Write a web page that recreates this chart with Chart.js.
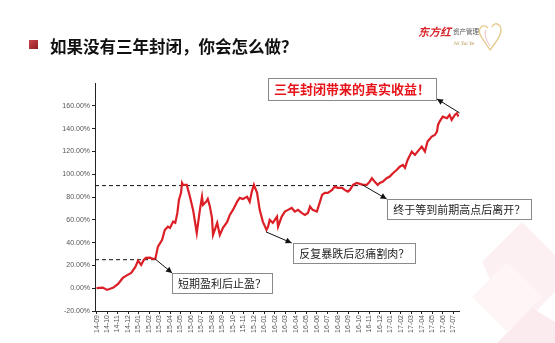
<!DOCTYPE html>
<html>
<head>
<meta charset="utf-8">
<script src="https://cdn.jsdelivr.net/npm/chart.js@4/dist/chart.umd.min.js"></script>
<style>
  html, body { margin:0; padding:0; background:#fff; }
  #wrap { position:relative; width:555px; height:343px; overflow:hidden; background:#fff; }
  #c { position:absolute; left:0; top:0; z-index:2; }
  #title { position:absolute; left:50px; top:34px; font-family:"Noto Sans CJK SC"; font-weight:bold; font-size:16.5px; color:#111; z-index:3; white-space:nowrap; }
  #bullet { position:absolute; left:29px; top:40px; width:9px; height:9px; background:linear-gradient(135deg,#c9474c,#8e1d22); z-index:3; }
  #logo { position:absolute; left:416px; top:20px; width:100px; height:36px; z-index:3; }
  #wm { position:absolute; left:462px; top:222px; z-index:1; }
</style>
</head>
<body>
<div id="wrap">
  <svg id="wm" width="93" height="121" viewBox="0 0 93 121">
    <path d="M20 40 L60 0 L93 33 L93 70 L53 110 Z" fill="#fcf0f2"/>
    <path d="M10 75 L45 40 L80 75 L45 110 Z" fill="#fdf5f6"/>
    <path d="M35 121 L70 86 L93 100 L93 121 Z" fill="#fbeaee"/>
  </svg>
  <div id="bullet"></div>
  <div id="title">如果没有三年封闭，你会怎么做？</div>
  <svg id="logo" width="100" height="36" viewBox="0 0 100 36">
    <text x="2" y="16" font-family="Noto Sans CJK SC" font-weight="bold" font-style="italic" font-size="11" fill="#d8262c">东方红</text>
    <text x="37" y="14" font-family="Noto Sans CJK SC" font-size="6.5" fill="#555">资产管理</text>
    <text x="38" y="25" font-family="DejaVu Serif" font-style="italic" font-size="4.5" fill="#b08a3a">Ni  Tai  Ye</text>
    <path d="M72 8 C66 2 60 10 66 18 L74 30 M74 30 C80 22 88 12 84 6 C81 2 77 4 76 7" fill="none" stroke="#e4c98a" stroke-width="1.3"/>
    <path d="M70 10 C68 14 70 20 74 26" fill="none" stroke="#f0b8c0" stroke-width="1"/>
  </svg>
  <canvas id="c" width="555" height="343"></canvas>
</div>
<script>
// ---- data ----
const monthLabels = ['14-09','14-10','14-11','14-12',
  '15-01','15-02','15-03','15-04','15-05','15-06','15-07','15-08','15-09','15-10','15-11','15-12',
  '16-01','16-02','16-03','16-04','16-05','16-06','16-07','16-08','16-09','16-10','16-11','16-12',
  '17-01','17-02','17-03','17-04','17-05','17-06','17-07'];

const yTickValues = [-20, 0, 20, 40, 60, 80, 100, 120, 140, 160];

// position in months since 14-09 (fractional = within the month)
const monthPos = [0,0.6,1.0,1.6,2.05,2.5,2.8,3.3,3.7,3.95,4.25,4.5,4.7,5.1,5.4,5.6,
  5.85,6.25,6.5,6.8,7.0,7.3,7.5,7.7,7.85,8.05,8.15,8.25,8.45,8.6,8.9,9.2,9.55,9.85,
  10.05,10.15,10.45,10.6,10.8,11.0,11.1,11.5,11.75,12.05,12.45,12.7,13.0,13.4,13.65,13.95,
  14.35,14.6,14.8,15.0,15.3,15.55,15.85,16.2,16.35,16.5,16.8,17.2,17.3,17.65,17.95,18.25,
  18.6,18.9,19.2,19.55,19.85,20.15,20.35,20.6,21.0,21.3,21.5,21.75,22.05,22.45,22.7,23.0,
  23.4,23.65,23.95,24.15,24.45,24.8,25.1,25.4,25.75,26.05,26.25,26.5,26.8,27.0,27.3,27.65,
  27.95,28.25,28.6,28.9,29.2,29.4,29.65,30.05,30.35,30.6,31.0,31.3,31.55,31.95,32.25,32.45,
  32.55,32.7,33.0,33.4,33.65,33.85,34.15,34.35,34.5];
// cumulative return, %
const cumReturn = [0,0.5,-1.5,0.5,3.8,9.0,10.8,13.4,18.7,24.2,20.4,24.8,26.6,26.8,25.7,25.7,
  36.5,42.4,51.1,54.0,52.9,58.4,57.3,66.0,77.4,83.6,92.3,90.6,90.6,90.6,80.3,68.7,48.5,68.7,
  80.3,73.1,75.9,78.3,71.6,61.7,46.7,57.3,46.7,52.9,58.1,64.3,68.7,75.9,79.2,78.3,
  80.3,75.9,84.7,90.6,83.6,68.7,58.4,51.1,54.0,59.9,57.3,62.8,54.0,62.8,67.2,68.7,
  70.4,67.2,68.7,66.0,64.3,66.0,71.6,68.7,67.2,75.9,81.8,83.6,83.6,86.2,89.1,88.0,
  88.0,86.2,84.7,86.2,90.6,92.3,91.5,90.6,90.6,93.5,96.5,93.5,90.6,92.3,93.5,96.5,
  97.9,100.9,103.7,106.6,108.1,105.5,112.5,119.8,116.9,119.8,124.2,119.8,128.6,133.0,134.4,137.3,
  143.2,146.1,150.5,149.1,152.0,147.6,152.0,153.5,150.5];

// dashed reference levels (previous highs) and where they end (month position)
const refLevels = [25, 90];
const refLevelEnds = [5.6, 25.0];

// annotation texts, anchors on curve and box positions in data units
const noteTexts = ['短期盈利后止盈？','反复暴跌后忍痛割肉？','终于等到前期高点后离开？','三年封闭带来的真实收益！'];
const noteFrom  = [[5.57,25.7],[16.15,49.4],[25.35,90.6],[34.6,153.8]];
const noteTo    = [[7.2,13.4],[18.6,39.7],[27.65,78.3],[32.45,166.0]];
const noteBoxX  = [7.2,18.75,27.7,16.35];   // left edge (month position)
const noteBoxY  = [4.6,31.0,69.5,174.7];    // vertical centre (%)

const X_MIN = -0.15, X_MAX = 34.55;

const mainData = monthPos.map((m,i)=>({x:m, y:cumReturn[i]}));
const refSets = refLevels.map((lv,i)=>({
  data:[{x:X_MIN,y:lv},{x:refLevelEnds[i],y:lv}],
  borderColor:'#111', borderWidth:1, borderDash:[4,3], pointRadius:0, order:2, fill:false
}));

const notesPlugin = {
  id:'notes',
  afterDraw(chart){
    const {ctx, scales:{x,y}} = chart;
    ctx.save();
    noteTexts.forEach((t,i)=>{
      const red = i===3;
      ctx.font = red ? 'bold 13px "Noto Sans CJK SC"' : '11px "Noto Sans CJK SC"';
      const tw = ctx.measureText(t).width;
      const pad = 6, h = red ? 22 : 20;
      const bx = x.getPixelForValue(noteBoxX[i]);
      const cy = y.getPixelForValue(noteBoxY[i]);
      ctx.fillStyle = '#fff';
      ctx.fillRect(bx, cy-h/2, tw+pad*2, h);
      ctx.strokeStyle = '#8a8a8a'; ctx.lineWidth = 1;
      ctx.strokeRect(Math.round(bx)+0.5, Math.round(cy-h/2)+0.5, Math.round(tw+pad*2), h);
      ctx.fillStyle = red ? '#e8141b' : '#222';
      ctx.textBaseline = 'middle'; ctx.textAlign = 'left';
      ctx.fillText(t, bx+pad, cy+0.5);
      // arrow
      const fx = x.getPixelForValue(noteFrom[i][0]), fy = y.getPixelForValue(noteFrom[i][1]);
      const tx = x.getPixelForValue(noteTo[i][0]), ty = y.getPixelForValue(noteTo[i][1]);
      ctx.strokeStyle = '#111'; ctx.fillStyle = '#111'; ctx.lineWidth = 1;
      ctx.beginPath(); ctx.moveTo(fx,fy); ctx.lineTo(tx,ty); ctx.stroke();
      const a = Math.atan2(ty-fy, tx-fx), L = 6, W = 3;
      ctx.beginPath();
      ctx.moveTo(tx,ty);
      ctx.lineTo(tx - L*Math.cos(a) + W*Math.sin(a), ty - L*Math.sin(a) - W*Math.cos(a));
      ctx.lineTo(tx - L*Math.cos(a) - W*Math.sin(a), ty - L*Math.sin(a) + W*Math.cos(a));
      ctx.closePath(); ctx.fill();
    });
    ctx.restore();
  }
};

new Chart(document.getElementById('c'), {
  type:'line',
  data:{ datasets:[
    { data:mainData, borderColor:'#dc1f26', borderWidth:2.2, pointRadius:0, tension:0, order:0, fill:false },
    ...refSets
  ]},
  options:{
    responsive:false, animation:false, events:[],
    layout:{ padding:{ top:83, right:96, bottom:0, left:0 } },
    plugins:{ legend:{display:false}, tooltip:{enabled:false} },
    scales:{
      x:{ type:'linear', min:X_MIN, max:X_MAX,
        afterBuildTicks:s=>{ s.ticks = monthLabels.map((_,i)=>({value:i})); },
        afterFit:s=>{ s.height = 32; },
        ticks:{ autoSkip:false, maxRotation:90, minRotation:90, padding:1,
          callback:(v)=>monthLabels[v], color:'#555', font:{family:'Liberation Sans', size:7} },
        grid:{ drawOnChartArea:false, tickLength:3, color:'#222' },
        border:{ color:'#222', width:1 }
      },
      y:{ min:-20, max:180,
        afterBuildTicks:s=>{ s.ticks = yTickValues.map(v=>({value:v})); },
        afterFit:s=>{ s.width = 95; },
        ticks:{ padding:2, callback:(v)=>v.toFixed(2)+'%', color:'#555', font:{family:'Liberation Sans', size:7} },
        grid:{ drawOnChartArea:false, tickLength:3, color:'#222' },
        border:{ color:'#222', width:1 }
      }
    }
  },
  plugins:[notesPlugin]
});
</script>
</body>
</html>
